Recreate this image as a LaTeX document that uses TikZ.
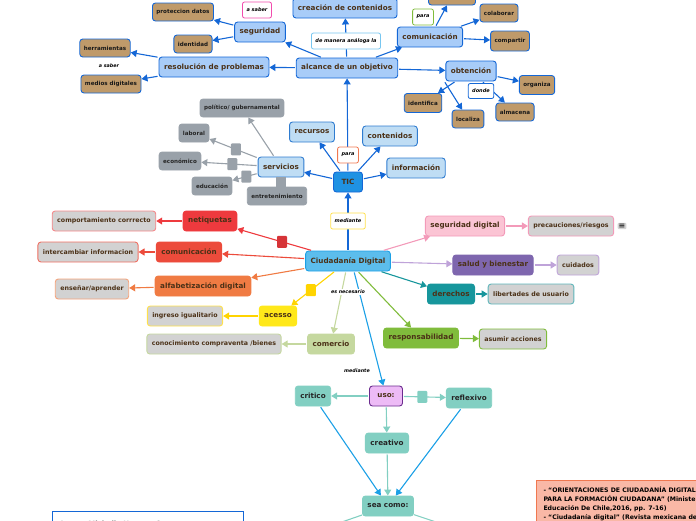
\documentclass[tikz,border=0pt]{standalone}
\usepackage{fontspec}
\setmainfont{DejaVu Sans}
\usetikzlibrary{arrows.meta}
\definecolor{azul}{HTML}{1467D6}
\definecolor{azulc}{HTML}{A8CCF8}
\definecolor{celeste}{HTML}{BFDDF4}
\definecolor{celested}{HTML}{2F7CD0}
\definecolor{cafe}{HTML}{BF9A6A}
\definecolor{gris}{HTML}{99A1A9}
\definecolor{grisc}{HTML}{D2D2D2}
\definecolor{txt}{HTML}{4B3117}
\definecolor{rojo}{HTML}{EE3A3E}
\definecolor{rojob}{HTML}{EC4B3B}
\definecolor{naranja}{HTML}{F07B43}
\definecolor{amarillo}{HTML}{FFE81A}
\definecolor{amarillol}{HTML}{FFD400}
\definecolor{verdec}{HTML}{C5D89F}
\definecolor{verde}{HTML}{80BC3C}
\definecolor{teal}{HTML}{17969C}
\definecolor{morado}{HTML}{7E66AE}
\definecolor{moradol}{HTML}{BFA3D9}
\definecolor{rosa}{HTML}{FBC4D4}
\definecolor{rosal}{HTML}{F39AB9}
\definecolor{turq}{HTML}{82CFC2}
\definecolor{lila}{HTML}{EDBBF6}
\definecolor{lilad}{HTML}{6B2C8F}
\definecolor{cdfill}{HTML}{5CBDEC}
\definecolor{ticfill}{HTML}{1F92E3}
\definecolor{cian}{HTML}{1CA0E6}
\definecolor{salmon}{HTML}{F9B8A6}
\definecolor{salmond}{HTML}{F07850}
\tikzset{
  >={Triangle[length=6pt,width=7pt]},
  bx/.style={rectangle,draw,rounded corners=3pt,line width=0.9pt,inner xsep=5pt,inner ysep=0pt,
    minimum height=20pt,text=txt,font=\bfseries\fontsize{7.2}{8}\selectfont},
  ab/.style={bx,fill=azulc,draw=azul},
  lc/.style={bx,fill=celeste,draw=celested},
  tn/.style={bx,fill=cafe,draw=azul,text=black!90,minimum height=18pt,inner xsep=4pt,
    font=\bfseries\fontsize{5.6}{6}\selectfont},
  gy/.style={bx,fill=gris,draw=gris,text=black!85,minimum height=18pt,inner xsep=4pt,
    font=\bfseries\fontsize{5.6}{6}\selectfont},
  gc/.style={bx,fill=grisc,font=\bfseries\fontsize{6.3}{7}\selectfont},
  tq/.style={bx,fill=turq,draw=turq,text=black!85},
  lb/.style={draw,rounded corners=2pt,fill=white,line width=0.8pt,minimum height=16pt,inner xsep=4pt,
    inner ysep=0pt,font=\bfseries\itshape\fontsize{5}{6}\selectfont},
  tx/.style={fill=white,inner sep=1pt,font=\bfseries\itshape\fontsize{4.8}{5}\selectfont},
  sq/.style={rectangle,rounded corners=1pt,minimum width=10pt,minimum height=12pt,inner sep=0pt},
  ln/.style={->,line width=1.1pt,shorten <=1pt},
}
\begin{document}
\begin{tikzpicture}[x=1pt,y=-1pt]
\useasboundingbox (0,0) rectangle (696,520);
\clip (0,0) rectangle (696,520);
% parte superior
\node[tn] (prot) at (183,12) {proteccion datos}; \node[ab] (crea) at (345,8) {creación de contenidos};
\node[tn,minimum width=47pt] (topc) at (452,-4) {}; \node[tn] (cola) at (499,13) {colaborar};
\node[ab] (seg) at (260,32) {seguridad}; \node[tn] (iden) at (193,44) {identidad};
\node[ab] (comu) at (430,37) {comunicación}; \node[tn,minimum height=20pt] (comp) at (510,41) {compartir};
\node[tn] (herr) at (105,48) {herramientas}; \node[tn] (medi) at (111,84) {medios digitales};
\node[ab] (reso) at (214,67) {resolución de problemas}; \node[ab] (alc) at (347,68) {alcance de un objetivo};
\node[ab] (obt) at (471,71) {obtención}; \node[tn,minimum height=19pt] (orga) at (537,85) {organiza};
\node[tn,minimum height=19pt] (iden2) at (423,103) {identifica}; \node[tn] (alma) at (515,112) {almacena};
\node[tn] (loca) at (468,119) {localiza};
% TIC y servicios
\node[gy] (poli) at (242,108) {político/ gubernamental}; \node[gy] (labo) at (194,133) {laboral};
\node[gy] (econ) at (180,161) {económico}; \node[gy] (educ) at (212,186) {educación};
\node[gy] (entr) at (277,196) {entretenimiento};
\node[lc] (recu) at (312,132) {recursos}; \node[lc] (cont) at (390,136) {contenidos};
\node[lc] (serv) at (281,167) {servicios}; \node[lc] (info) at (416,168) {información};
\node[bx,fill=ticfill,draw=azul,minimum width=29pt] (tic) at (348,182) {TIC};
% ciudadania digital
\node[bx,fill=cdfill,draw=cian] (cd) at (348,261) {Ciudadanía Digital};
\node[bx,fill=rojo,draw=rojo] (neti) at (210,221) {netiquetas};
\node[gc,draw=rojo!60] (cort) at (104,221) {comportamiento corrrecto};
\node[bx,fill=rojob,draw=rojob] (com2) at (189,252) {comunicación};
\node[gc,draw=rojob!80] (inte) at (88,252) {intercambiar informacion};
\node[bx,fill=naranja,draw=naranja] (alf) at (203,286) {alfabetización digital};
\node[gc,draw=naranja!70] (ense) at (92,289) {enseñar/aprender};
\node[bx,fill=amarillo,draw=amarillo] (acc) at (278,316) {acesso};
\node[gc,draw=amarillol!70] (ingr) at (185,316) {ingreso igualitario};
\node[bx,fill=verdec,draw=verdec] (come) at (331,344) {comercio};
\node[gc,draw=verdec] (cono) at (214,344) {conocimiento compraventa /bienes};
\node[bx,fill=rosa,draw=rosal] (segd) at (465,226) {seguridad digital};
\node[gc,draw=rosal] (prec) at (571,226) {precauciones/riesgos};
\node[fill=grisc,rounded corners=1pt,inner sep=1pt,font=\fontsize{8}{8}\selectfont] (nota) at (622,226) {≡};
\node[bx,fill=morado,draw=morado] (salu) at (493,265) {salud y bienestar};
\node[gc,draw=moradol] (cuid) at (578,265) {cuidados};
\node[bx,fill=teal,draw=teal] (dere) at (451,294) {derechos};
\node[gc,draw=teal!70] (libe) at (531,294) {libertades de usuario};
\node[bx,fill=verde,draw=verde] (resp) at (421,338) {responsabilidad};
\node[gc,draw=verde] (asum) at (513,339) {asumir acciones};
% uso
\node[bx,fill=lila,draw=lilad,minimum width=33pt] (uso) at (386,396) {uso:};
\node[tq] (crit) at (313,396) {critico}; \node[tq] (refl) at (469,398) {reflexivo};
\node[tq] (crea2) at (387,443) {creativo}; \node[tq] (sea) at (388,506) {sea como:};
\coordinate (sea1) at (290,540); \coordinate (sea2) at (490,540);
% enlaces
\draw[ln,azul] (alc) -- (crea); \draw[ln,azul] (alc) -- (seg); \draw[ln,azul] (alc) -- (reso);
\draw[ln,azul] (alc) -- (comu); \draw[ln,azul] (alc) -- (obt);
\draw[ln,azul] (seg) -- (prot); \draw[ln,azul] (seg) -- (iden);
\draw[ln,azul] (reso) -- (herr); \draw[ln,azul] (reso) -- (medi);
\draw[ln,azul] (comu) -- (topc); \draw[ln,azul] (comu) -- (cola); \draw[ln,azul] (comu) -- (comp);
\draw[ln,azul] (obt) -- (iden2); \draw[ln,azul] (obt.south west) ++(-1,0) -- (loca);
\draw[ln,azul] (obt) -- (alma); \draw[ln,azul] (obt) -- (orga);
\draw[ln,azul] (tic) -- (alc); \draw[ln,azul] (tic) -- (recu); \draw[ln,azul] (tic) -- (cont);
\draw[ln,azul] (tic) -- (serv); \draw[ln,azul] (tic) -- (info);
\draw[ln,gris] (serv) -- (poli);
\draw[ln,gris] (serv) -- (labo) node[sq,fill=gris,pos=0.45] (s1) {};
\draw[ln,gris] (serv) -- (econ) node[sq,fill=gris,pos=0.45] (s2) {};
\draw[ln,gris] (serv) -- (educ) node[sq,fill=gris,pos=0.45] (s3) {};
\draw[gris,line width=10pt] (serv.south) -- (serv.south |- entr.north);
\draw[ln,azul] (cd) -- (tic);
\draw[ln,rojo] (cd) -- (neti) node[sq,fill=rojo!90!black,pos=0.4] (s4) {};
\draw[ln,rojob] (cd) -- (com2); \draw[ln,naranja] (cd) -- (alf);
\draw[ln,amarillol] (cd) -- (acc) node[sq,fill=amarillol,pos=0.55] (s5) {};
\draw[ln,verdec] (cd) -- (come); \draw[ln,cian] (cd.south) ++(6,0) -- (uso);
\draw[ln,verde] (cd) -- (resp); \draw[ln,teal] (cd) -- (dere);
\draw[ln,moradol] (cd) -- (salu); \draw[ln,rosal] (cd) -- (segd);
\draw[ln,rojo] (neti) -- (cort); \draw[ln,rojob] (com2) -- (inte); \draw[ln,naranja] (alf) -- (ense);
\draw[ln,amarillol] (acc) -- (ingr); \draw[ln,verdec] (come) -- (cono);
\draw[ln,rosal] (segd) -- (prec); \draw[ln,moradol] (salu) -- (cuid);
\draw[ln,teal] (dere) -- (libe); \draw[ln,verde] (resp) -- (asum);
\draw[ln,turq] (uso) -- (crit); \draw[ln,turq] (uso) -- (crea2);
\draw[ln,turq] (uso) -- (refl) node[sq,fill=turq,pos=0.45] (s6) {};
\draw[ln,cian] (crit) -- (sea); \draw[ln,cian] (refl) -- (sea); \draw[ln,turq] (crea2) -- (sea);
\draw[line width=1.1pt,turq] (sea) -- (sea1); \draw[line width=1.1pt,turq] (sea) -- (sea2);
% etiquetas de enlace
\node[lb,draw=magenta!70] (asab) at (257,10) {a saber}; \node[tx] (asab2) at (109,66) {a saber};
\node[lb,draw=cian!60] (mana) at (346,41) {de manera análoga la};
\node[lb,draw=verde] (para1) at (423,17) {para}; \node[lb,draw=azul,minimum height=15pt] (dond) at (481,91) {donde};
\node[lb,draw=salmond] (para2) at (348,155) {para}; \node[lb,draw=amarillol!70] (medt) at (348,221) {mediante};
\node[tx] (esne) at (348,292) {es necesario}; \node[tx] (med2) at (357,371) {mediante};
% cuadros inferiores
\node[draw=azul,fill=white,line width=0.9pt,minimum width=191pt,minimum height=24pt,anchor=north west,
  inner xsep=7pt,text width=177pt,font=\bfseries\fontsize{7}{8}\selectfont] (auto) at (52,511) {Anetta Michelle Herrera Santos};
\node[draw=salmond,fill=salmon,line width=1pt,anchor=north west,inner xsep=7pt,inner ysep=6pt,align=left,
  font=\bfseries\fontsize{6.2}{9}\selectfont] (refs) at (536,480)
  {- “ORIENTACIONES DE CIUDADANÍA DIGITAL\\PARA LA FORMACIÓN CIUDADANA” (Ministerio de\\Educación De Chile,2016, pp. 7-16)\\- “Ciudadanía digital” (Revista mexicana de investigación)};
\end{tikzpicture}
\end{document}
